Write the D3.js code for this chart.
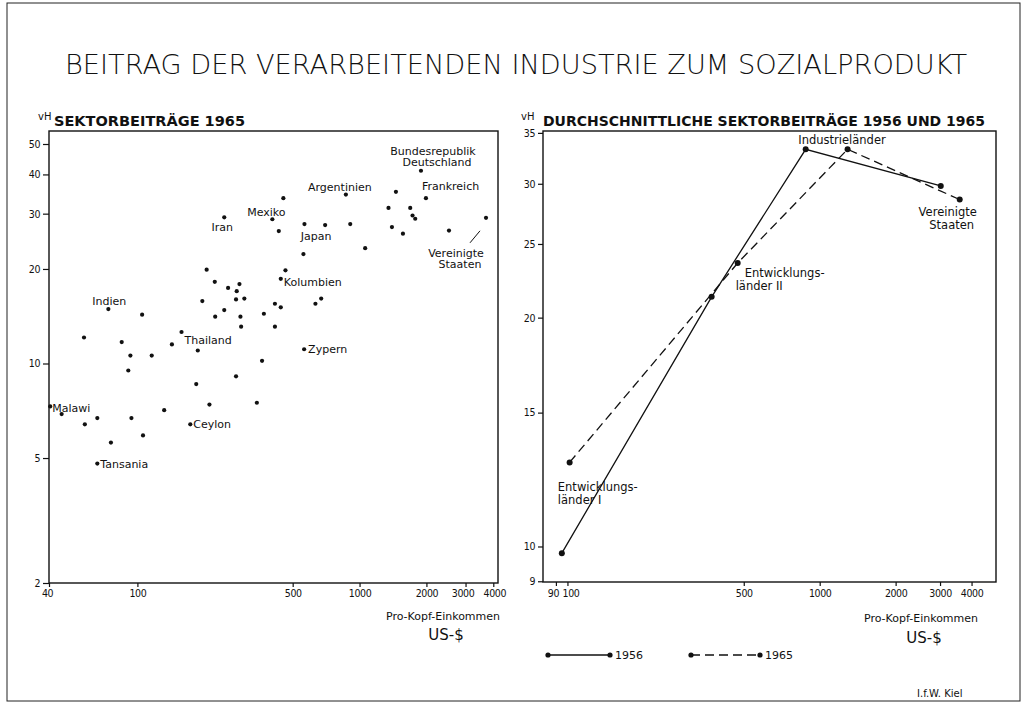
<!DOCTYPE html>
<meta charset="utf-8">
<script src="https://d3js.org/d3.v7.min.js"></script>
<style>
  body { margin: 0; background: #fff; }
  text { font-family: "DejaVu Sans", sans-serif; fill: #111; }
  .tick text { font-size: 10.5px; font-stretch: condensed; letter-spacing: -0.4px; }
  .tick line { stroke: #111; stroke-width: 1.2; }
  .lbl { font-size: 11px; }
</style>
<div id="chart"></div>
<script>

// ---- data, left panel: sector share 1965 (per capita income US-$, share vH)
var einkommen65 = [454, 246, 405, 433, 565, 700, 908, 868, 1458, 1890, 1990, 1350, 1691, 1732, 1781, 1399,
  1568, 2527, 3709, 1060, 559, 464, 442, 205, 223, 256, 288, 280, 196, 278, 303, 74, 105, 416, 442, 633,
  672, 246, 224, 291, 371, 293, 416, 57.5, 85, 158, 143, 187, 93, 116, 563, 91, 364, 184, 278, 40.5, 45.6,
  66, 94, 132, 211, 345, 58, 173, 106, 76, 66];
var anteil65 = [33.6, 29.2, 28.8, 26.4, 27.8, 27.6, 27.8, 34.5, 35.2, 41.1, 33.6, 31.3, 31.3, 29.6, 28.9, 27.2,
  25.9, 26.5, 29.1, 23.3, 22.3, 19.8, 18.6, 19.9, 18.2, 17.4, 17.9, 17.0, 15.8, 16.0, 16.1, 14.9, 14.3, 15.5, 15.1, 15.5,
  16.1, 14.8, 14.1, 14.1, 14.4, 13.1, 13.1, 12.1, 11.7, 12.6, 11.5, 11.0, 10.6, 10.6, 11.1, 9.5, 10.2, 8.6, 9.1, 7.3, 6.9,
  6.7, 6.7, 7.1, 7.4, 7.5, 6.4, 6.4, 5.9, 5.6, 4.8];
var laender = ["", "Iran", "Mexiko", "", "", "Japan", "", "Argentinien", "", "Bundesrepublik|Deutschland", "Frankreich", "", "", "", "", "",
  "", "", "Vereinigte|Staaten", "", "", "", "Kolumbien", "", "", "", "", "", "", "", "", "Indien", "", "", "", "",
  "", "", "", "", "", "", "", "", "", "Thailand", "", "", "", "", "Zypern", "", "", "", "", "Malawi", "",
  "", "", "", "", "", "", "Ceylon", "", "", "Tansania"];

// ---- data, right panel: average sector shares 1956 and 1965
var gruppen = ["Entwicklungsländer I", "Entwicklungsländer II", "Industrieländer", "Vereinigte Staaten"];
var einkommen1956 = [95, 373, 880, 3020];
var anteil1956 = [9.8, 21.3, 33.3, 29.8];
var einkommen1965 = [102, 473, 1290, 3590];
var anteil1965 = [12.9, 23.6, 33.3, 28.6];

// tick labels
var yTicksL = [2, 5, 10, 20, 30, 40, 50];
var xTicksL = [40, 100, 500, 1000, 2000, 3000, 4000];
var yTicksR = [9, 10, 15, 20, 25, 30, 35];
var xTicksR = [90, 100, 500, 1000, 2000, 3000, 4000];

var W = 1027, H = 704;
var svg = d3.select("#chart").append("svg").attr("width", W).attr("height", H);

// outer frame
svg.append("rect").attr("x", 7).attr("y", 3).attr("width", 1013).attr("height", 698)
  .attr("fill", "none").attr("stroke", "#222").attr("stroke-width", 1);

// title
svg.append("text").attr("x", 516).attr("y", 74).attr("text-anchor", "middle")
  .attr("textLength", 902).attr("lengthAdjust", "spacingAndGlyphs")
  .style("font-size", "27px").style("font-weight", 300)
  .text("BEITRAG DER VERARBEITENDEN INDUSTRIE ZUM SOZIALPRODUKT");

// scales
var xL = d3.scaleLog().domain([40, 4200]).range([49, 498]);
var yL = d3.scaleLog().domain([2, 55]).range([583, 131]);
var xR = d3.scaleLog().domain([80, 5000]).range([543, 996]);
var yR = d3.scaleLog().domain([8.98, 35.2]).range([582, 131]);

function box(x0, x1, y0, y1) {
  svg.append("rect").attr("x", x0).attr("y", y0).attr("width", x1 - x0).attr("height", y1 - y0)
    .attr("fill", "none").attr("stroke", "#111").attr("stroke-width", 1.4);
}
box(49, 498, 131, 583);
box(543, 996, 131, 582);

// axes left
var axL = svg.append("g").attr("transform", "translate(49,0)")
  .call(d3.axisLeft(yL).tickValues(yTicksL).tickFormat(d3.format("d")).tickSize(6).tickPadding(3));
var axB = svg.append("g").attr("transform", "translate(0,583)")
  .call(d3.axisBottom(xL).tickValues(xTicksL).tickFormat(d3.format("d")).tickSize(4).tickPadding(3));
axB.selectAll(".tick").filter(function(d) { return d == 40; }).select("text").attr("dx", -2);
axB.selectAll(".tick").filter(function(d) { return d == 3000; }).select("text").attr("dx", -3);
axB.selectAll(".tick").filter(function(d) { return d == 4000; }).select("text").attr("dx", 1);

// axes right
var axR = svg.append("g").attr("transform", "translate(543,0)")
  .call(d3.axisLeft(yR).tickValues(yTicksR).tickFormat(d3.format("d")).tickSize(5).tickPadding(3));
var axRB = svg.append("g").attr("transform", "translate(0,582)")
  .call(d3.axisBottom(xR).tickValues(xTicksR).tickFormat(d3.format("d")).tickSize(4).tickPadding(4));
axRB.selectAll(".tick").filter(function(d) { return d == 90; }).select("text").attr("dx", -3);
axRB.selectAll(".tick").filter(function(d) { return d == 100; }).select("text").attr("dx", 3);
svg.selectAll(".domain").remove();

// panel headers
svg.append("text").attr("x", 38).attr("y", 120).style("font-size", "10px").text("vH");
svg.append("text").attr("x", 54).attr("y", 126).attr("textLength", 191).attr("lengthAdjust", "spacingAndGlyphs")
  .style("font-size", "14px").style("font-weight", "bold").text("SEKTORBEITRÄGE  1965");
svg.append("text").attr("x", 521).attr("y", 120).style("font-size", "10px").text("vH");
svg.append("text").attr("x", 543).attr("y", 126).attr("textLength", 442).attr("lengthAdjust", "spacingAndGlyphs")
  .style("font-size", "14px").style("font-weight", "bold").text("DURCHSCHNITTLICHE  SEKTORBEITRÄGE  1956  UND  1965");

// axis titles
[[443, 620, 640], [921, 622, 643]].forEach(function(p) {
  svg.append("text").attr("x", p[0]).attr("y", p[1]).attr("text-anchor", "middle")
    .style("font-size", "11px").text("Pro-Kopf-Einkommen");
  svg.append("text").attr("x", p[0] + 3).attr("y", p[2]).attr("text-anchor", "middle")
    .style("font-size", "15px").text("US-$");
});

// scatter
var pts = einkommen65.map(function(v, i) { return {x: v, y: anteil65[i], name: laender[i]}; });
svg.append("g").selectAll("circle").data(pts).enter().append("circle")
  .attr("cx", function(d) { return xL(d.x); })
  .attr("cy", function(d) { return yL(d.y); })
  .attr("r", 2.1).attr("fill", "#111");

// label placement (offsets from the point, in px)
var lblPos = {
  "Iran": [-2, 14, "middle"], "Mexiko": [-6, -3, "middle"], "Japan": [-9, 15, "middle"],
  "Argentinien": [-6, -4, "middle"], "Bundesrepublik|Deutschland": [12, -16, "middle"],
  "Frankreich": [-4, -8, "start"], "Vereinigte|Staaten": [-30, 39, "middle"],
  "Kolumbien": [3, 7, "start"], "Indien": [1, -4, "middle"], "Thailand": [3, 12, "start"],
  "Zypern": [4, 4, "start"], "Malawi": [2, 6, "start"], "Ceylon": [3, 4, "start"], "Tansania": [3, 4, "start"]
};
pts.filter(function(d) { return d.name; }).forEach(function(d) {
  var p = lblPos[d.name], lines = d.name.split("|");
  var t = svg.append("text").attr("class", "lbl").attr("text-anchor", p[2])
    .attr("x", xL(d.x) + p[0]).attr("y", yL(d.y) + p[1]);
  lines.forEach(function(s, k) {
    t.append("tspan").attr("x", xL(d.x) + p[0] + (k ? 4 : 0)).attr("dy", k ? 11 : 0).text(s);
  });
});
// arrow to the USA point
var us = pts[18];
svg.append("line").attr("x1", xL(us.x) - 16).attr("y1", yL(us.y) + 25)
  .attr("x2", xL(us.x) - 6).attr("y2", yL(us.y) + 13).attr("stroke", "#111").attr("stroke-width", 1);

// right panel lines
var line = d3.line().x(function(d) { return xR(d[0]); }).y(function(d) { return yR(d[1]); });
var s56 = einkommen1956.map(function(v, i) { return [v, anteil1956[i]]; });
var s65 = einkommen1965.map(function(v, i) { return [v, anteil1965[i]]; });
svg.append("path").attr("d", line(s56)).attr("fill", "none").attr("stroke", "#111").attr("stroke-width", 1.3);
svg.append("path").attr("d", line(s65)).attr("fill", "none").attr("stroke", "#111").attr("stroke-width", 1.3)
  .attr("stroke-dasharray", "9,5");
svg.append("g").selectAll("circle").data(s56.concat(s65)).enter().append("circle")
  .attr("cx", function(d) { return xR(d[0]); }).attr("cy", function(d) { return yR(d[1]); })
  .attr("r", 3).attr("fill", "#111");

// right panel labels
function lbl2(x, y, a, b, anchor, dx2) {
  var t = svg.append("text").attr("class", "lbl").style("font-size", "11.5px").attr("text-anchor", anchor);
  t.append("tspan").attr("x", x).attr("y", y).text(a);
  if (b) t.append("tspan").attr("x", x + (dx2 || 0)).attr("y", y + 13).text(b);
}
lbl2(xR(einkommen1956[0]) - 4, yR(anteil1956[0]) - 62, "Entwicklungs-", "länder   I", "start", 0);
lbl2(xR(einkommen1965[1]) + 7, yR(anteil1965[1]) + 14, "Entwicklungs-", "länder  II", "start", -9);
lbl2(842, yR(anteil1956[2]) - 5, "Industrieländer", null, "middle");
lbl2(xR(einkommen1965[3]) - 12, yR(anteil1965[3]) + 16, "Vereinigte", "Staaten", "middle", 4);

// legend
var lg = svg.append("g");
[[548, 610, 1956, null], [691, 760, 1965, "9,5"]].forEach(function(l) {
  lg.append("line").attr("x1", l[0]).attr("x2", l[1]).attr("y1", 655).attr("y2", 655)
    .attr("stroke", "#111").attr("stroke-width", 1.3).attr("stroke-dasharray", l[3]);
  lg.append("circle").attr("cx", l[0]).attr("cy", 655).attr("r", 2.6).attr("fill", "#111");
  lg.append("circle").attr("cx", l[1]).attr("cy", 655).attr("r", 2.6).attr("fill", "#111");
  lg.append("text").attr("x", l[1] + 5).attr("y", 659).style("font-size", "11px").text(l[2]);
});

svg.append("text").attr("x", 917).attr("y", 697).style("font-size", "10px").text("I.f.W.  Kiel");

</script>
